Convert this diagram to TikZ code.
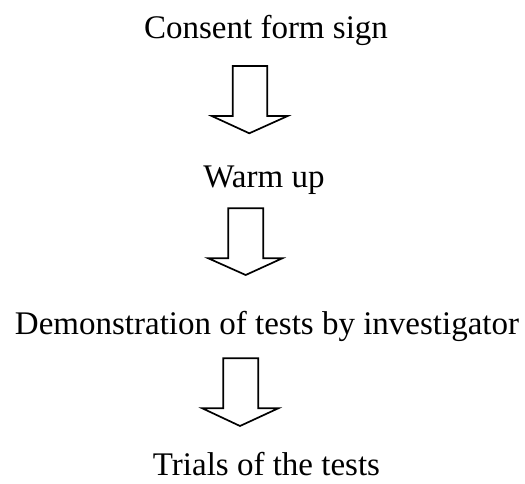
\documentclass[tikz,border=0pt]{standalone}
\usepackage{fontspec}
\setmainfont{Liberation Serif}
\begin{document}
\begin{tikzpicture}[x=1pt,y=-1pt,
  label/.style={anchor=base,inner sep=0pt,font=\fontsize{33}{40}\selectfont},
  blockarrow/.style={draw=black,line width=1.7pt,fill=white,line join=miter}]
\useasboundingbox (0,0) rectangle (525,484);
\node[label] (s1) at (266,39) {Consent form sign};
\node[label] (s2) at (264,187) {Warm up};
\node[label] (s3) at (267,334) {Demonstration of tests by investigator};
\node[label] (s4) at (266.5,475) {Trials of the tests};
% arrow 1
\draw[blockarrow] (232.7,66) -- (267.3,66) -- (267.3,116) -- (287.7,116) -- (249.3,133.3) -- (211.7,116) -- (232.7,116) -- cycle;
% arrow 2
\draw[blockarrow] (228.3,208.3) -- (263.3,208.3) -- (263.3,258.3) -- (282.3,258.3) -- (245.7,275) -- (208.3,258.3) -- (228.3,258.3) -- cycle;
% arrow 3
\draw[blockarrow] (223.3,358.3) -- (258.3,358.3) -- (258.3,408.3) -- (278.3,408.3) -- (240,426) -- (202.3,408.3) -- (223.3,408.3) -- cycle;
\end{tikzpicture}
\end{document}
